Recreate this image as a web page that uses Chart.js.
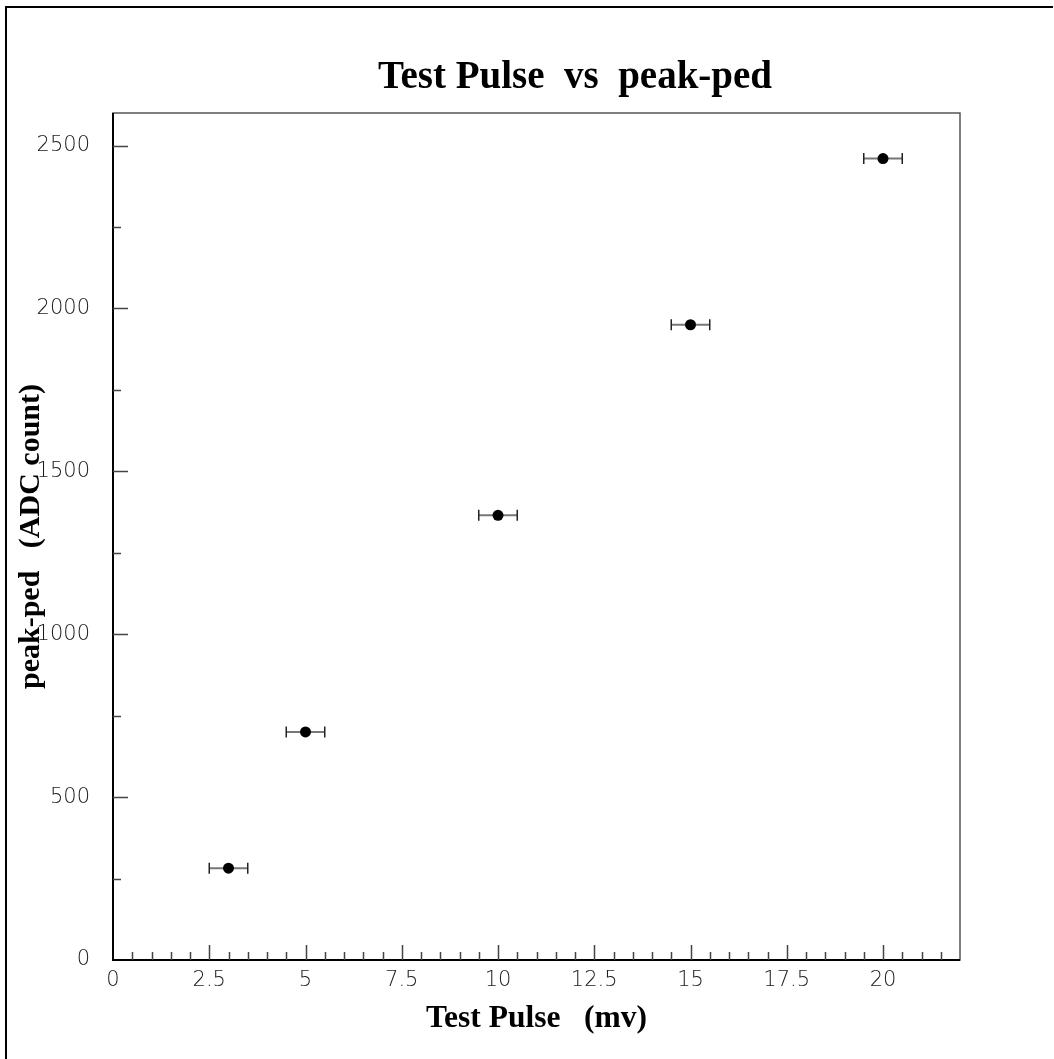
<!DOCTYPE html>
<html>
<head>
<meta charset="utf-8">
<title>Test Pulse vs peak-ped</title>
<script src="https://cdn.jsdelivr.net/npm/chart.js@4"></script>
<style>
    html, body { margin: 0; padding: 0; background: #fff; }
    #wrap { width: 1054px; height: 1059px; }
</style>
</head>
<body>
<div id="wrap"><canvas id="pulse-chart" width="1054" height="1059"></canvas></div>
<script>
// 測定値: テストパルス (mV) と peak-ped (ADC カウント)
const pulseMv = [3, 5, 10, 15, 20];
const peakPed = [282, 700, 1365, 1950, 2460];
const pulseErr = [0.5, 0.5, 0.5, 0.5, 0.5];

const titleText = 'Test Pulse  vs  peak-ped';
const xTitle = 'Test Pulse   (mv)';
const yTitle = 'peak-ped   (ADC count)';

// 軸範囲と目盛り
const xRange = [0, 22];
const yRange = [0, 2600];
const xTickValues = [0, 2.5, 5, 7.5, 10, 12.5, 15, 17.5, 20];
const yTickValues = [0, 500, 1000, 1500, 2000, 2500];
const xMajor = 2.5, xMinor = 0.5;
const yMajor = 500, yMinor = 250;

const points = pulseMv.map((x, i) => ({ x: x, y: peakPed[i] }));

// 背景・外枠・タイトル
const framePlugin = {
    id: 'frame',
    beforeDraw(chart) {
        const ctx = chart.ctx;
        ctx.save();
        ctx.fillStyle = '#fff';
        ctx.fillRect(0, 0, chart.width, chart.height);
        ctx.restore();
    },
    afterDraw(chart) {
        const ctx = chart.ctx;
        const a = chart.chartArea;
        ctx.save();
        // 外枠 (左と上のみ見える)
        ctx.strokeStyle = '#000';
        ctx.lineWidth = 2;
        ctx.beginPath();
        ctx.moveTo(6, chart.height);
        ctx.lineTo(6, 7);
        ctx.lineTo(1053, 7);
        ctx.stroke();

        // プロット枠
        ctx.strokeStyle = '#555';
        ctx.lineWidth = 1.5;
        ctx.strokeRect(a.left, a.top, a.right - a.left, a.bottom - a.top);
        ctx.strokeStyle = '#000';
        ctx.lineWidth = 2;
        ctx.beginPath();
        ctx.moveTo(a.left, a.top);
        ctx.lineTo(a.left, a.bottom);
        ctx.lineTo(a.right, a.bottom);
        ctx.stroke();

        // 内向きの目盛り
        const xs = chart.scales.x, ys = chart.scales.y;
        ctx.strokeStyle = '#444';
        ctx.lineWidth = 1.5;
        ctx.beginPath();
        for (let v = xRange[0] + xMinor; v < xRange[1]; v += xMinor) {
            const px = Math.round(xs.getPixelForValue(v)) + 0.5;
            const major = Math.abs(v / xMajor - Math.round(v / xMajor)) < 1e-6;
            ctx.moveTo(px, a.bottom);
            ctx.lineTo(px, a.bottom - (major ? 15 : 8));
        }
        for (let v = yRange[0] + yMinor; v < yRange[1]; v += yMinor) {
            const py = Math.round(ys.getPixelForValue(v)) + 0.5;
            const major = v % yMajor === 0;
            ctx.moveTo(a.left, py);
            ctx.lineTo(a.left + (major ? 15 : 8), py);
        }
        ctx.stroke();

        // タイトル
        ctx.fillStyle = '#000';
        ctx.font = 'bold 39px "Liberation Serif", "Times New Roman", serif';
        ctx.textAlign = 'center';
        ctx.textBaseline = 'alphabetic';
        ctx.fillText(titleText, 575, 88);
        ctx.restore();
    }
};

// 横方向の誤差棒
const errorBarPlugin = {
    id: 'xErrorBars',
    beforeDatasetsDraw(chart) {
        const ctx = chart.ctx;
        const xs = chart.scales.x, ys = chart.scales.y;
        ctx.save();
        pulseMv.forEach((x, i) => {
            const y = ys.getPixelForValue(peakPed[i]);
            const x0 = xs.getPixelForValue(x - pulseErr[i]);
            const x1 = xs.getPixelForValue(x + pulseErr[i]);
            ctx.strokeStyle = '#777';
            ctx.lineWidth = 2;
            ctx.beginPath();
            ctx.moveTo(x0, y);
            ctx.lineTo(x1, y);
            ctx.stroke();
            ctx.strokeStyle = '#222';
            ctx.lineWidth = 1.5;
            ctx.beginPath();
            ctx.moveTo(x0, y - 5.5);
            ctx.lineTo(x0, y + 5.5);
            ctx.moveTo(x1, y - 5.5);
            ctx.lineTo(x1, y + 5.5);
            ctx.stroke();
        });
        ctx.restore();
    }
};

const tickFont = { family: '"DejaVu Sans", sans-serif', size: 21, weight: 200 };
const axisTitleFont = { family: '"Liberation Serif", "Times New Roman", serif', size: 30, weight: 'bold' };
const plainLabel = v => String(v);

new Chart(document.getElementById('pulse-chart').getContext('2d'), {
    type: 'scatter',
    data: {
        datasets: [{
            label: 'peak-ped',
            data: points,
            pointRadius: 5.5,
            pointHoverRadius: 5.5,
            pointBackgroundColor: '#000',
            pointBorderColor: '#000',
            pointBorderWidth: 0,
            showLine: false
        }]
    },
    options: {
        responsive: false,
        animation: false,
        events: [],
        layout: { padding: { top: 113, right: 94, bottom: 0, left: 0 } },
        plugins: {
            legend: { display: false },
            title: { display: false },
            tooltip: { enabled: false }
        },
        scales: {
            x: {
                type: 'linear',
                position: 'bottom',
                min: xRange[0],
                max: xRange[1],
                grid: { display: false, drawTicks: false },
                border: { display: false },
                afterBuildTicks(scale) { scale.ticks = xTickValues.map(v => ({ value: v })); },
                ticks: {
                    maxRotation: 0,
                    autoSkip: false,
                    padding: 8,
                    color: '#1a1a1a',
                    font: tickFont,
                    callback: plainLabel
                },
                title: {
                    display: true,
                    text: xTitle,
                    color: '#000',
                    font: { ...axisTitleFont, size: 31.5 },
                    padding: { top: 0, bottom: 21 }
                },
                afterFit(scale) { scale.height = 99; }
            },
            y: {
                type: 'linear',
                position: 'left',
                min: yRange[0],
                max: yRange[1],
                grid: { display: false, drawTicks: false },
                border: { display: false },
                afterBuildTicks(scale) { scale.ticks = yTickValues.map(v => ({ value: v })); },
                ticks: {
                    autoSkip: false,
                    padding: 23,
                    color: '#1a1a1a',
                    font: tickFont,
                    callback: plainLabel
                },
                title: {
                    display: true,
                    text: yTitle,
                    color: '#000',
                    font: axisTitleFont,
                    padding: { top: 13, bottom: 0 }
                },
                afterFit(scale) { scale.width = 113; }
            }
        }
    },
    plugins: [framePlugin, errorBarPlugin]
});
</script>
</body>
</html>
